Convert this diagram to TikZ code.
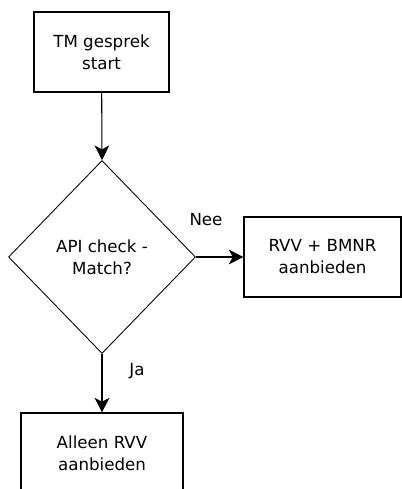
\documentclass[tikz,border=0pt]{standalone}
\usepackage{fontspec}
\setmainfont{DejaVu Sans}
\usetikzlibrary{shapes.geometric,arrows.meta}
\tikzset{
	stepbox/.style={draw,line width=0.8pt,align=center,inner sep=0pt},
	choice/.style={draw,diamond,line width=0.65pt,align=center,inner sep=0pt},
	flow/.style={line width=0.8pt,-{Stealth[length=11pt,width=11pt,inset=3pt]}},
}

\begin{document}
\begin{tikzpicture}[x=0.75pt,y=-0.75pt,font=\fontsize{12.5}{16.5}\selectfont]
			% fix size of picture (pixels of the screenshot)
			\useasboundingbox (0,0) rectangle (402,489);
			
			% boxes and decision
			\node[stepbox,minimum width={135*0.75pt},minimum height={80*0.75pt}] (start) at (101.5,52) {TM gesprek\\start};
			\node[choice,minimum width={187*0.75pt},minimum height={193*0.75pt}] (check) at (102,257) {API check -\\Match?};
			\node[stepbox,minimum width={157*0.75pt},minimum height={80*0.75pt}] (both) at (322.5,257) {RVV + BMNR\\aanbieden};
			\node[stepbox,minimum width={162*0.75pt},minimum height={80*0.75pt}] (rvv) at (102,453) {Alleen RVV\\aanbieden};
			
			% Add arrows between them
			\draw[flow] (start) -- (check.north);
			\draw[flow] (check.east) -- (both.west);
			\draw[flow] (check.south) -- (rvv.north);
			
			% Optional: answers
			\node (nee) at (206,220) {Nee};
			\node (ja) at (137,371) {Ja};
			
\end{tikzpicture}
\end{document}
